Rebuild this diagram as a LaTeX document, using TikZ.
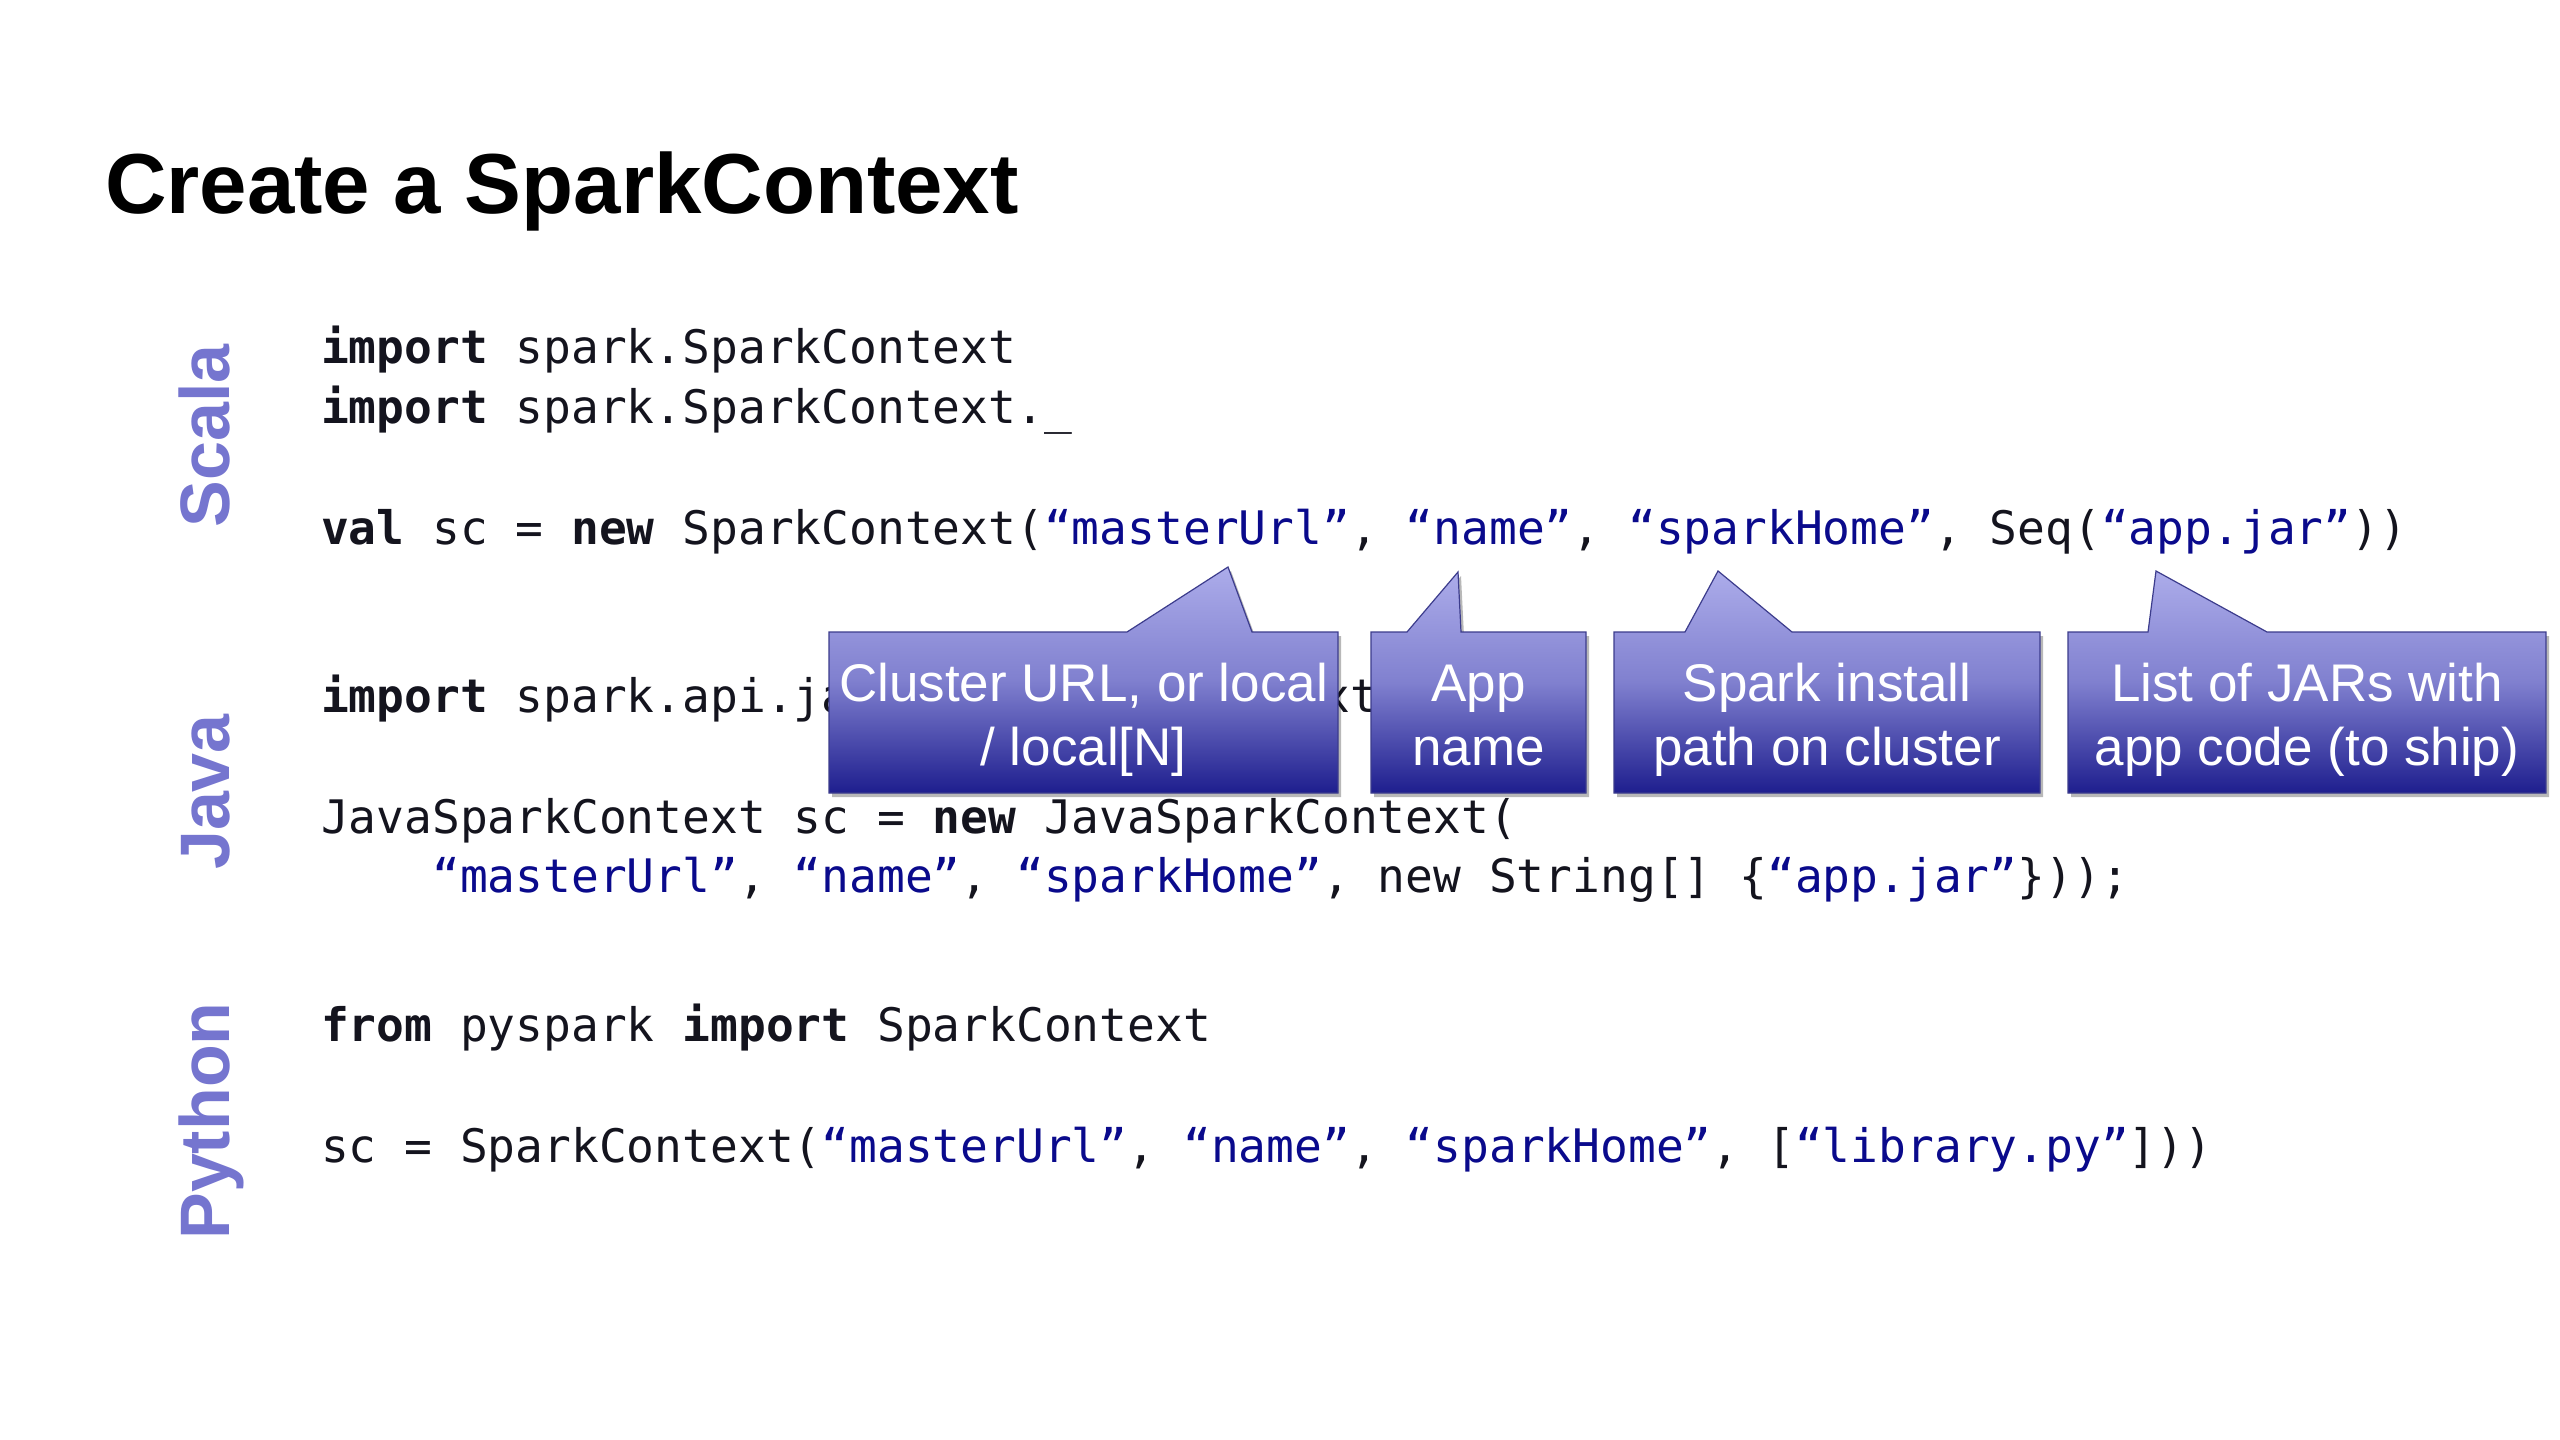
\documentclass[tikz,border=0pt]{standalone}
\usepackage{fontspec}
\setmainfont{Liberation Sans}
\newfontfamily\codefont{DejaVu Sans Mono}
\definecolor{strblue}{RGB}{10,10,140}
\definecolor{codeblack}{RGB}{20,20,30}
\definecolor{langpurple}{RGB}{117,117,207}
\definecolor{calltop}{RGB}{172,172,234}
\definecolor{callmid}{RGB}{128,128,207}
\definecolor{callbot}{RGB}{30,30,142}
\definecolor{callline}{RGB}{60,60,140}
\newcommand\ckw[1]{\textbf{#1}}
\newcommand\cstr[1]{\textcolor{strblue}{#1}}
\begin{document}
\begin{tikzpicture}[x=0.5pt,y=-0.5pt,
  every node/.style={inner sep=0pt,outer sep=0pt},
  codeline/.style={anchor=base west,font=\codefont\fontsize{23.1}{28}\selectfont,text=codeblack},
  langlabel/.style={anchor=base,rotate=90,font=\fontsize{35}{42}\selectfont\bfseries,text=langpurple},
  titletext/.style={anchor=base west,font=\fontsize{42.6}{50}\selectfont\bfseries,text=black},
  calltext/.style={anchor=base,font=\fontsize{26.5}{32}\selectfont,text=white},
  callshade/.style={top color=calltop,bottom color=callbot,middle color=callmid,draw=callline,line width=0.6pt},
  callshadow/.style={fill=black,opacity=0.28,shift={(3,4)}}]
\useasboundingbox[fill=white] (0,0) rectangle (2560,1440);

% title
\node[titletext] (title) at (105,213) {Create a SparkContext};

% language labels
\node[langlabel] (lblScala) at (229,436) {Scala};
\node[langlabel] (lblJava) at (229,792) {Java};
\node[langlabel] (lblPython) at (229,1121) {Python};

% Scala code
\node[codeline] (sc1) at (321,363) {\ckw{import} spark.SparkContext};
\node[codeline] (sc2) at (321,423) {\ckw{import} spark.SparkContext.\_};
\node[codeline] (sc3) at (321,544) {\ckw{val} sc = \ckw{new} SparkContext(\cstr{“masterUrl”}, \cstr{“name”}, \cstr{“sparkHome”}, Seq(\cstr{“app.jar”}))};

% Java code
\node[codeline] (jv1) at (321,712) {\ckw{import} spark.api.java.JavaSparkContext};
\node[codeline] (jv2) at (321,833) {JavaSparkContext sc = \ckw{new} JavaSparkContext(};
\node[codeline] (jv3) at (432.2,892) {\cstr{“masterUrl”}, \cstr{“name”}, \cstr{“sparkHome”}, new String[] \{\cstr{“app.jar”}\}));};

% Python code
\node[codeline] (py1) at (321,1041) {\ckw{from} pyspark \ckw{import} SparkContext};
\node[codeline] (py2) at (321,1162) {sc = SparkContext(\cstr{“masterUrl”}, \cstr{“name”}, \cstr{“sparkHome”}, [\cstr{“library.py”}]))};

% callout 1
\fill[callshadow] (829,632) -- (1127,632) -- (1228,567) -- (1252,632) -- (1338,632) -- (1338,793) -- (829,793) -- cycle;
\shade[callshade] (829,632) -- (1127,632) -- (1228,567) -- (1252,632) -- (1338,632) -- (1338,793) -- (829,793) -- cycle;
\node[calltext] (c1a) at (1083.5,701) {Cluster URL, or local};
\node[calltext] (c1b) at (1083.5,765) {/ local[N]};

% callout 2
\fill[callshadow] (1371,632) -- (1407,632) -- (1458,572) -- (1461,632) -- (1586,632) -- (1586,793) -- (1371,793) -- cycle;
\shade[callshade] (1371,632) -- (1407,632) -- (1458,572) -- (1461,632) -- (1586,632) -- (1586,793) -- (1371,793) -- cycle;
\node[calltext] (c2a) at (1478.5,701) {App};
\node[calltext] (c2b) at (1478.5,765) {name};

% callout 3
\fill[callshadow] (1614,632) -- (1685,632) -- (1718,571) -- (1792,632) -- (2040,632) -- (2040,793) -- (1614,793) -- cycle;
\shade[callshade] (1614,632) -- (1685,632) -- (1718,571) -- (1792,632) -- (2040,632) -- (2040,793) -- (1614,793) -- cycle;
\node[calltext] (c3a) at (1827,701) {Spark install};
\node[calltext] (c3b) at (1827,765) {path on cluster};

% callout 4
\fill[callshadow] (2068,632) -- (2148,632) -- (2156,571) -- (2267,632) -- (2546,632) -- (2546,793) -- (2068,793) -- cycle;
\shade[callshade] (2068,632) -- (2148,632) -- (2156,571) -- (2267,632) -- (2546,632) -- (2546,793) -- (2068,793) -- cycle;
\node[calltext] (c4a) at (2307,701) {List of JARs with};
\node[calltext] (c4b) at (2307,765) {app code (to ship)};
\end{tikzpicture}
\end{document}
